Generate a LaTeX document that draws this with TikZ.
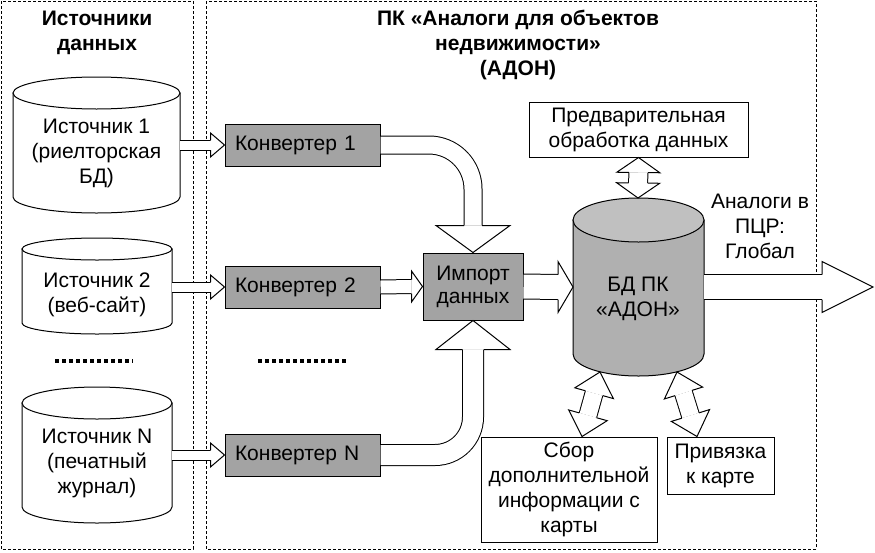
\documentclass[tikz,border=0pt]{standalone}
\usepackage{fontspec}
\setmainfont{Liberation Sans}
\usetikzlibrary{calc}

\definecolor{convgray}{RGB}{163,163,163}
\definecolor{dbgray}{RGB}{176,176,176}
\definecolor{dbtop}{RGB}{192,192,192}

\tikzset{
    frame/.style={draw, line width=0.8pt, dash pattern=on 3pt off 2pt},
    dotline/.style={draw, line width=3.5pt, dash pattern=on 3.5pt off 3.5pt},
    title/.style={font=\bfseries\fontsize{21}{25}\selectfont},
    conv/.style={draw, fill=convgray, minimum height=42pt, text width=135pt, align=left, inner xsep=10pt},
    graybox/.style={draw, fill=convgray},
    whitebox/.style={draw, fill=white},
    pipe/.style={draw, double=white, double distance=#1, line width=1pt},
}

% fat arrow head: base, tip, shaft half width, head half width
\newcommand{\fathead}[4]{%
    \filldraw[fill=white, line join=miter]
        ($(#1)!#3!90:(#2)$) -- ($(#1)!#4!90:(#2)$) -- (#2)
        -- ($(#1)!#4!-90:(#2)$) -- ($(#1)!#3!-90:(#2)$);
}

\begin{document}
\begin{tikzpicture}[x=1pt, y=-1pt, line width=1pt,
    every node/.style={font=\fontsize{21}{25}\selectfont, align=center, inner sep=0pt}]
    \useasboundingbox (0,0) rectangle (875,552);

    % frames
    \draw[frame] (1,1) rectangle (193,549);
    \draw[frame] (206,1) rectangle (816,549);
    \node[title] (ttlsrc) at (97,32.5) {Источники\\данных};
    \node[title] (ttlpk) at (518,45) {ПК «Аналоги для объектов\\недвижимости»\\(АДОН)};

    % cylinders
    \foreach \nm/\xa/\xb/\yt/\yb/\ry/\bc/\tc in {
        src1/13/180/93/197/16/white/white,
        src2/22/172/249/323/11/white/white,
        srcN/22/172/403/507/16/white/white,
        dbc/573/704/220/354/22/dbgray/dbtop} {
        \filldraw[fill=\bc]
            (\xa,\yt) -- (\xa,\yb)
            arc[start angle=180, end angle=0, x radius={(\xb-\xa)/2}, y radius=\ry]
            -- (\xb,\yt) -- cycle;
        \filldraw[fill=\tc] ({(\xa+\xb)/2},\yt) ellipse[x radius={(\xb-\xa)/2}, y radius=\ry];
        \coordinate (\nm-r) at (\xb,\yb);
    }

    \node (src1) at (96.5,153) {Источник 1\\(риелторская\\БД)};
    \node (src2) at (97,295) {Источник 2\\(веб-сайт)};
    \node (srcN) at (97,463) {Источник N\\(печатный\\журнал)};
    \node (db) at (638,298.5) {БД ПК\\«АДОН»};

    \draw[dotline] (55,361) -- (133,361);
    \draw[dotline] (258,361) -- (347,361);

    % boxes
    \node[conv] (cv1) at (302.5,145) {Конвертер 1};
    \node[conv] (cv2) at (302.5,287) {Конвертер 2};
    \node[conv] (cvN) at (302.5,455) {Конвертер N};
    \node[graybox, minimum width=100pt, minimum height=67pt,
        font=\fontsize{21}{23}\selectfont] (imp) at (473,286.5) {Импорт\\данных};
    \node[whitebox, minimum width=219pt, minimum height=55pt] (pre) at (638.5,129.5) {Предварительная\\обработка данных};
    \node[whitebox, minimum width=176pt, minimum height=105pt] (sbor) at (569,489.5) {Сбор\\дополнительной\\информации с\\карты};
    \node[whitebox, minimum width=107pt, minimum height=57pt] (priv) at (720.5,465.5) {Привязка\\к карте};
    \node (outlbl) at (760,226) {Аналоги в\\ПЦР:\\Глобал};

    \coordinate (dbw) at (573,287);
    \coordinate (dbe) at (704,287);
    \coordinate (dbt) at (638,198);
    \coordinate (dbl) at (600,372);
    \coordinate (dbr) at (677,372);
    \coordinate (sbt) at ($(sbor.north)+(13,0)$);
    \coordinate (prt) at ($(priv.north)+(-23.5,0)$);
    \coordinate (out) at (873,287);

    % sources to converters
    \foreach \i in {1,2,N} {
        \draw[pipe=9pt] (src\i-r |- cv\i.west) -- ($(cv\i.west)+(-14,0)$) coordinate (b\i);
        \fathead{b\i}{cv\i.west}{5pt}{12pt}
    }

    % converters to import
    \draw[pipe=13pt] (cv2.east) -- ($(imp.west)+(-11,0)$) coordinate (b2i);
    \fathead{b2i}{imp.west}{7pt}{15.5pt}
    \draw[pipe=17pt, rounded corners=44pt] (cv1.east) -| ($(imp.north)+(0,-27)$) coordinate (b1i);
    \fathead{b1i}{imp.north}{9pt}{37pt}
    \draw[pipe=20pt, rounded corners=38pt] (cvN.east) -| ($(imp.south)+(0,29)$) coordinate (bNi);
    \fathead{bNi}{imp.south}{10.5pt}{37pt}

    % import to db, db to output
    \draw[pipe=24pt] (imp.east) -- ($(dbw)+(-15,0)$) coordinate (bdb);
    \fathead{bdb}{dbw}{12.5pt}{25.5pt}
    \draw[pipe=24pt] (dbe) -- ($(out)+(-51,0)$) coordinate (bout);
    \fathead{bout}{out}{12.5pt}{25.5pt}

    % double arrows round the db
    \draw[pipe=18pt] ($(pre.south)!15pt!(dbt)$) coordinate (p1) -- ($(dbt)!15pt!(pre.south)$) coordinate (p2);
    \fathead{p1}{pre.south}{9.5pt}{21.5pt}
    \fathead{p2}{dbt}{9.5pt}{21.5pt}
    \draw[pipe=17pt] ($(dbl)!22pt!(sbt)$) coordinate (l1) -- ($(sbt)!22pt!(dbl)$) coordinate (l2);
    \fathead{l1}{dbl}{9pt}{20pt}
    \fathead{l2}{sbt}{9pt}{20pt}
    \draw[pipe=17pt] ($(dbr)!22pt!(prt)$) coordinate (r1) -- ($(prt)!22pt!(dbr)$) coordinate (r2);
    \fathead{r1}{dbr}{9pt}{20pt}
    \fathead{r2}{prt}{9pt}{20pt}
\end{tikzpicture}
\end{document}
